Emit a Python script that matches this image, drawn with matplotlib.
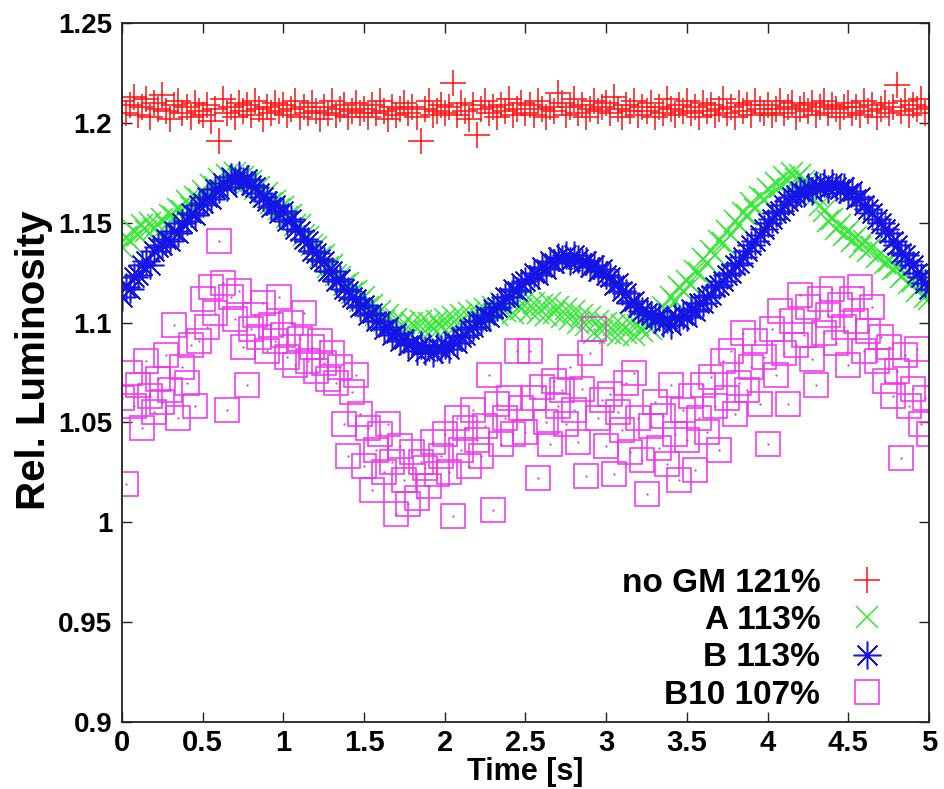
import numpy as np
import matplotlib
matplotlib.use("Agg")
import matplotlib.pyplot as plt

plt.rcParams['font.family'] = ['Liberation Sans', 'DejaVu Sans']
plt.rcParams['font.weight'] = 'bold'

# time axis: one sample every 0.025 s
t = np.arange(201) * 0.025

# no GM
lum_nogm = [
    1.211, 1.205, 1.209, 1.213, 1.204, 1.208, 1.212, 1.203, 1.210, 1.207,
    1.214, 1.206, 1.202, 1.209, 1.211, 1.205, 1.208, 1.203, 1.210, 1.206,
    1.204, 1.209, 1.201, 1.207, 1.191, 1.212, 1.205, 1.208, 1.203, 1.210,
    1.206, 1.209, 1.204, 1.211, 1.207, 1.202, 1.208, 1.205, 1.210, 1.206,
    1.209, 1.204, 1.207, 1.211, 1.203, 1.208, 1.205, 1.210, 1.206, 1.202,
    1.208, 1.205, 1.211, 1.204, 1.207, 1.209, 1.203, 1.206, 1.210, 1.205,
    1.207, 1.203, 1.209, 1.205, 1.211, 1.206, 1.202, 1.208, 1.204, 1.207,
    1.210, 1.205, 1.208, 1.203, 1.191, 1.207, 1.211, 1.204, 1.206, 1.209,
    1.205, 1.208, 1.220, 1.204, 1.210, 1.206, 1.202, 1.209, 1.194, 1.207,
    1.211, 1.205, 1.208, 1.203, 1.209, 1.206, 1.212, 1.204, 1.207, 1.210,
    1.205, 1.209, 1.204, 1.211, 1.207, 1.203, 1.208, 1.206, 1.215, 1.210,
    1.204, 1.208, 1.212, 1.205, 1.209, 1.203, 1.207, 1.211, 1.206, 1.208,
    1.210, 1.205, 1.213, 1.207, 1.203, 1.209, 1.206, 1.211, 1.204, 1.208,
    1.206, 1.210, 1.203, 1.208, 1.205, 1.212, 1.207, 1.204, 1.209, 1.206,
    1.211, 1.205, 1.208, 1.203, 1.210, 1.206, 1.209, 1.204, 1.207, 1.212,
    1.205, 1.208, 1.203, 1.210, 1.206, 1.209, 1.204, 1.211, 1.207, 1.205,
    1.209, 1.204, 1.207, 1.211, 1.205, 1.208, 1.210, 1.203, 1.207, 1.209,
    1.206, 1.210, 1.204, 1.208, 1.211, 1.205, 1.209, 1.207, 1.203, 1.208,
    1.210, 1.205, 1.208, 1.204, 1.211, 1.206, 1.209, 1.203, 1.207, 1.210,
    1.205, 1.208, 1.219, 1.206, 1.211, 1.204, 1.209, 1.207, 1.212, 1.205,
    1.208,
]

# A
lum_a = [
    1.138, 1.143, 1.141, 1.146, 1.144, 1.149, 1.146, 1.150, 1.147, 1.149,
    1.152, 1.149, 1.154, 1.153, 1.157, 1.156, 1.161, 1.158, 1.163, 1.162,
    1.166, 1.164, 1.169, 1.168, 1.172, 1.170, 1.174, 1.172, 1.175, 1.172,
    1.173, 1.170, 1.171, 1.167, 1.168, 1.163, 1.165, 1.160, 1.161, 1.157,
    1.158, 1.153, 1.154, 1.149, 1.149, 1.144, 1.143, 1.139, 1.138, 1.133,
    1.134, 1.128, 1.129, 1.124, 1.123, 1.119, 1.120, 1.115, 1.116, 1.111,
    1.113, 1.108, 1.109, 1.104, 1.106, 1.101, 1.104, 1.099, 1.102, 1.097,
    1.100, 1.096, 1.100, 1.097, 1.101, 1.096, 1.100, 1.097, 1.101, 1.098,
    1.102, 1.098, 1.103, 1.099, 1.104, 1.100, 1.105, 1.101, 1.106, 1.102,
    1.107, 1.103, 1.108, 1.104, 1.110, 1.106, 1.111, 1.105, 1.110, 1.107,
    1.111, 1.106, 1.110, 1.105, 1.109, 1.104, 1.110, 1.105, 1.108, 1.103,
    1.107, 1.102, 1.106, 1.100, 1.104, 1.099, 1.103, 1.095, 1.101, 1.096,
    1.100, 1.095, 1.099, 1.094, 1.099, 1.095, 1.100, 1.094, 1.099, 1.096,
    1.099, 1.097, 1.102, 1.101, 1.108, 1.106, 1.113, 1.111, 1.118, 1.116,
    1.121, 1.119, 1.126, 1.125, 1.132, 1.130, 1.136, 1.134, 1.141, 1.140,
    1.146, 1.144, 1.151, 1.149, 1.155, 1.154, 1.160, 1.157, 1.163, 1.162,
    1.167, 1.165, 1.170, 1.168, 1.173, 1.171, 1.175, 1.172, 1.174, 1.171,
    1.170, 1.166, 1.164, 1.159, 1.156, 1.151, 1.152, 1.147, 1.149, 1.144,
    1.146, 1.141, 1.143, 1.138, 1.141, 1.136, 1.138, 1.133, 1.135, 1.130,
    1.131, 1.127, 1.128, 1.123, 1.125, 1.120, 1.121, 1.116, 1.118, 1.113,
    1.112,
]

# B
lum_b = [
    1.113, 1.118, 1.117, 1.123, 1.124, 1.129, 1.131, 1.129, 1.136, 1.138,
    1.139, 1.142, 1.141, 1.146, 1.145, 1.150, 1.151, 1.155, 1.154, 1.159,
    1.160, 1.163, 1.162, 1.167, 1.167, 1.170, 1.168, 1.173, 1.171, 1.174,
    1.171, 1.172, 1.169, 1.168, 1.165, 1.163, 1.161, 1.158, 1.159, 1.155,
    1.156, 1.151, 1.152, 1.147, 1.146, 1.142, 1.141, 1.136, 1.135, 1.132,
    1.131, 1.126, 1.126, 1.121, 1.122, 1.117, 1.116, 1.113, 1.112, 1.108,
    1.109, 1.104, 1.105, 1.101, 1.101, 1.097, 1.098, 1.094, 1.095, 1.091,
    1.092, 1.089, 1.090, 1.086, 1.089, 1.086, 1.088, 1.085, 1.088, 1.087,
    1.089, 1.087, 1.091, 1.090, 1.093, 1.094, 1.097, 1.098, 1.101, 1.101,
    1.104, 1.103, 1.107, 1.108, 1.110, 1.113, 1.113, 1.117, 1.116, 1.120,
    1.121, 1.122, 1.125, 1.124, 1.128, 1.127, 1.131, 1.130, 1.133, 1.132,
    1.134, 1.131, 1.134, 1.132, 1.130, 1.131, 1.128, 1.129, 1.126, 1.127,
    1.124, 1.123, 1.119, 1.120, 1.116, 1.115, 1.110, 1.111, 1.108, 1.106,
    1.105, 1.104, 1.102, 1.103, 1.100, 1.102, 1.099, 1.103, 1.102, 1.104,
    1.103, 1.107, 1.106, 1.110, 1.110, 1.113, 1.114, 1.118, 1.119, 1.121,
    1.124, 1.125, 1.129, 1.130, 1.133, 1.136, 1.139, 1.141, 1.144, 1.147,
    1.150, 1.152, 1.155, 1.156, 1.159, 1.161, 1.163, 1.164, 1.166, 1.165,
    1.168, 1.166, 1.169, 1.168, 1.170, 1.167, 1.170, 1.168, 1.167, 1.168,
    1.165, 1.166, 1.162, 1.163, 1.159, 1.157, 1.155, 1.152, 1.150, 1.147,
    1.145, 1.141, 1.139, 1.135, 1.134, 1.131, 1.129, 1.125, 1.123, 1.120,
    1.117,
]

# B10
lum_b10 = [
    1.062, 1.019, 1.075, 1.058, 1.069, 1.047, 1.081, 1.063, 1.055, 1.072,
    1.060, 1.084, 1.066, 1.099, 1.052, 1.078, 1.070, 1.089, 1.058, 1.091,
    1.112, 1.098, 1.118, 1.105, 1.141, 1.120, 1.056, 1.113, 1.102, 1.116,
    1.088, 1.069, 1.097, 1.104, 1.093, 1.110, 1.086, 1.099, 1.091, 1.113,
    1.094, 1.083, 1.100, 1.079, 1.092, 1.105, 1.081, 1.088, 1.076, 1.091,
    1.080, 1.072, 1.085, 1.070, 1.078, 1.049, 1.033, 1.065, 1.074, 1.054,
    1.028, 1.047, 1.016, 1.036, 1.044, 1.025, 1.049, 1.030, 1.004, 1.038,
    1.021, 1.009, 1.035, 1.012, 1.030, 1.027, 1.018, 1.040, 1.024, 1.033,
    1.044, 1.025, 1.003, 1.052, 1.036, 1.047, 1.028, 1.056, 1.041, 1.033,
    1.048, 1.074, 1.006, 1.059, 1.039, 1.052, 1.062, 1.044, 1.086, 1.057,
    1.045, 1.086, 1.062, 1.022, 1.068, 1.050, 1.039, 1.071, 1.058, 1.066,
    1.049, 1.078, 1.056, 1.040, 1.067, 1.023, 1.085, 1.097, 1.052, 1.061,
    1.038, 1.064, 1.024, 1.055, 1.046, 1.070, 1.035, 1.075, 1.052, 1.031,
    1.014, 1.048, 1.060, 1.037, 1.053, 1.029, 1.069, 1.044, 1.021, 1.056,
    1.041, 1.063, 1.026, 1.052, 1.069, 1.045, 1.073, 1.058, 1.036, 1.081,
    1.062, 1.086, 1.054, 1.070, 1.095, 1.066, 1.078, 1.091, 1.059, 1.083,
    1.039, 1.097, 1.074, 1.106, 1.085, 1.059, 1.101, 1.089, 1.114, 1.094,
    1.108, 1.082, 1.069, 1.112, 1.095, 1.104, 1.117, 1.090, 1.109, 1.098,
    1.079, 1.112, 1.101, 1.118, 1.086, 1.096, 1.108, 1.081, 1.093, 1.071,
    1.088, 1.063, 1.076, 1.032, 1.084, 1.058, 1.067, 1.087, 1.049, 1.062,
    1.044,
]

labels = ['no GM 121%', 'A 113%', 'B 113%', 'B10 107%']

xticks = [0, 0.5, 1, 1.5, 2, 2.5, 3, 3.5, 4, 4.5, 5]
xtick_labels = ['0', '0.5', '1', '1.5', '2', '2.5', '3', '3.5', '4', '4.5', '5']
yticks = [0.9, 0.95, 1.0, 1.05, 1.1, 1.15, 1.2, 1.25]
ytick_labels = ['0.9', '0.95', '1', '1.05', '1.1', '1.15', '1.2', '1.25']

fig = plt.figure(figsize=(9.44, 7.89), dpi=100)
ax = fig.add_axes([0.1292, 0.0849, 0.8549, 0.8859])

star = (8, 2, 0)
ax.plot(t, lum_nogm, ls='none', marker='+', ms=19, mew=1.1, color='#ff1010', label=labels[0])
ax.plot(t, lum_a, ls='none', marker='x', ms=16, mew=1.1, color='#33e833', label=labels[1])
ax.plot(t, lum_b, ls='none', marker=star, ms=20, mew=1.1, color='#1414e6', label=labels[2])
ax.plot(t, lum_b10, ls='none', marker='s', ms=17, mew=1.1, mfc='none', mec='#ee30ee', label=labels[3])
ax.plot(t, lum_b10, ls='none', marker='.', ms=1.2, color='#cc40cc')

ax.set_xlim(0, 5)
ax.set_ylim(0.9, 1.25)
ax.set_xticks(xticks)
ax.set_xticklabels(xtick_labels)
ax.set_yticks(yticks)
ax.set_yticklabels(ytick_labels)
ax.tick_params(direction='in', length=7, width=1, top=True, right=True, color='#222222')
ax.tick_params(axis='x', labelsize=21, pad=5)
ax.tick_params(axis='y', labelsize=20, pad=7)
for s in ax.spines.values():
    s.set_linewidth(1.3)
    s.set_color('#222222')

ax.set_xlabel('Time [s]', fontsize=22, fontweight='bold', labelpad=0)
ax.set_ylabel('Rel. Luminosity', fontsize=29, fontweight='bold')
ax.yaxis.set_label_coords(-0.085, 0.518)

ax.legend(loc='lower right', bbox_to_anchor=(0.948, 0.016), markerfirst=False,
          frameon=False, fontsize=24, handlelength=1.2, handletextpad=0.8,
          labelspacing=0.19, borderpad=0, borderaxespad=0)

fig.savefig('out.png', dpi=100)
